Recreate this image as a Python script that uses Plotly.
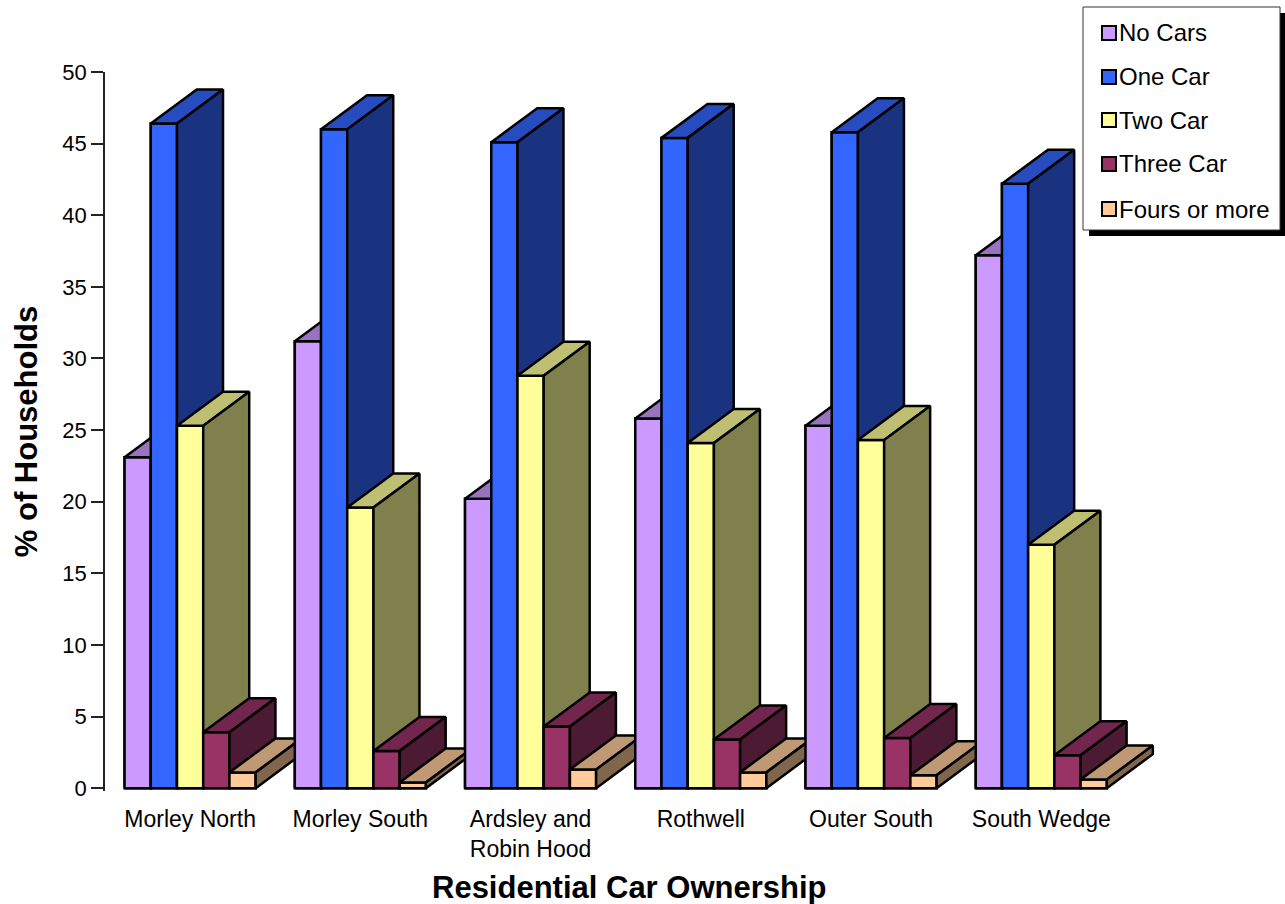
import plotly.graph_objects as go

# ---- data -------------------------------------------------------------
categories = ["Morley North", "Morley South", "Ardsley and<br>Robin Hood",
              "Rothwell", "Outer South", "South Wedge"]
series_names = ["No Cars", "One Car", "Two Car", "Three Car", "Fours or more"]

no_cars = [23.1, 31.2, 20.2, 25.8, 25.3, 37.2]
one_car = [46.4, 46.0, 45.1, 45.4, 45.8, 42.2]
two_car = [25.3, 19.6, 28.8, 24.1, 24.3, 17.0]
three_car = [3.9, 2.6, 4.3, 3.4, 3.5, 2.3]
four_plus = [1.1, 0.4, 1.3, 1.1, 0.9, 0.6]

y_tick_values = [0, 5, 10, 15, 20, 25, 30, 35, 40, 45, 50]

# ---- styling ----------------------------------------------------------
front_colors = ["#CC99FF", "#3366FF", "#FFFF99", "#993366", "#FFCC99"]
top_colors = ["#9973BF", "#264CBF", "#BFBF73", "#73264D", "#BF9973"]
side_colors = ["#664C80", "#1A3380", "#80804D", "#4D1A33", "#80664D"]
EDGE = "#000000"
EDGE_W = 2.5
FONT = "Arial, 'Liberation Sans', sans-serif"

# figure / plot-area geometry (pixels)
FIG_W, FIG_H = 1285, 904
M_L, M_R, M_T, M_B = 105, 82, 72, 113
X_RANGE = [0, 6.45]
Y_RANGE = [-0.2, 50]
PLOT_W = FIG_W - M_L - M_R
PLOT_H = FIG_H - M_T - M_B

# 3-D column geometry in axis units
BAR_W = 0.154                 # width of one column
DEPTH_X = 46 / (PLOT_W / (X_RANGE[1] - X_RANGE[0]))   # receding offset, x
DEPTH_Y = 34 / (PLOT_H / (Y_RANGE[1] - Y_RANGE[0]))   # receding offset, y


def px_x(px):
    return (px - M_L) / PLOT_W


def px_y(py):
    return (M_T + PLOT_H - py) / PLOT_H


series_values = [no_cars, one_car, two_car, three_car, four_plus]
n_series = len(series_values)
x_centers = [i + 0.5 for i in range(len(categories))]

fig = go.Figure()

# flat front faces as ordinary bar traces
for s, (name, vals) in enumerate(zip(series_names, series_values)):
    fig.add_trace(go.Bar(
        x=x_centers, y=vals, name=name,
        width=BAR_W, offset=(s - n_series / 2) * BAR_W,
        marker=dict(color=front_colors[s], line=dict(color=EDGE, width=EDGE_W)),
        showlegend=False, hoverinfo="skip",
    ))


def face(xs, ys, color):
    fig.add_trace(go.Scatter(
        x=xs + [xs[0]], y=ys + [ys[0]], mode="lines", fill="toself",
        fillcolor=color, line=dict(color=EDGE, width=EDGE_W),
        showlegend=False, hoverinfo="skip",
    ))


# extruded columns, painted left to right so nearer faces overlap
for c, xc in enumerate(x_centers):
    for s in range(n_series):
        v = series_values[s][c]
        xl = xc + (s - n_series / 2) * BAR_W
        xr = xl + BAR_W
        # front
        face([xl, xr, xr, xl], [0, 0, v, v], front_colors[s])
        # top
        face([xl, xr, xr + DEPTH_X, xl + DEPTH_X],
             [v, v, v + DEPTH_Y, v + DEPTH_Y], top_colors[s])
        # right side
        face([xr, xr + DEPTH_X, xr + DEPTH_X, xr],
             [0, DEPTH_Y, v + DEPTH_Y, v], side_colors[s])

# ---- legend box ----------------------------------------------------------
shapes = []
annotations = []
box_l, box_r, box_t, box_b = 1083, 1280, 7, 230
shadow = 6
shapes.append(dict(type="rect", xref="paper", yref="paper",
                   x0=px_x(box_l + shadow), x1=px_x(box_r + shadow),
                   y0=px_y(box_b + shadow), y1=px_y(box_t + shadow),
                   fillcolor="black", line=dict(width=0), layer="above"))
shapes.append(dict(type="rect", xref="paper", yref="paper",
                   x0=px_x(box_l), x1=px_x(box_r),
                   y0=px_y(box_b), y1=px_y(box_t),
                   fillcolor="white", line=dict(color="#333333", width=1),
                   layer="above"))
row_y = [33, 77, 120, 164, 209]
for s, name in enumerate(series_names):
    cy = row_y[s]
    shapes.append(dict(type="rect", xref="paper", yref="paper",
                       x0=px_x(1102), x1=px_x(1116),
                       y0=px_y(cy + 7), y1=px_y(cy - 7),
                       fillcolor=front_colors[s],
                       line=dict(color="black", width=2), layer="above"))
    annotations.append(dict(text=name, xref="paper", yref="paper",
                            x=px_x(1117), y=px_y(cy), xanchor="left",
                            yanchor="middle", showarrow=False,
                            font=dict(family=FONT, size=24, color="black")))

# x-axis title
annotations.append(dict(text="Residential Car Ownership", xref="paper",
                        yref="paper", x=px_x(629), y=px_y(887),
                        xanchor="center", yanchor="middle", showarrow=False,
                        font=dict(family=FONT, size=31, color="black",
                                  weight="bold")))

fig.update_layout(
    width=FIG_W, height=FIG_H, autosize=False,
    margin=dict(l=M_L, r=M_R, t=M_T, b=M_B, pad=0),
    paper_bgcolor="white", plot_bgcolor="white",
    barmode="overlay", showlegend=False,
    font=dict(family=FONT, size=22, color="black"),
    shapes=shapes, annotations=annotations,
    xaxis=dict(range=X_RANGE, tickvals=x_centers, ticktext=categories,
               showgrid=False, zeroline=False, showline=False, ticks="",
               ticklabelstandoff=12, tickfont=dict(size=23, color="black"),
               fixedrange=True),
    yaxis=dict(range=Y_RANGE, tickvals=y_tick_values, showgrid=False,
               zeroline=False, showline=True, linecolor="#222222",
               linewidth=1.5, ticks="outside", ticklen=12,
               tickcolor="#222222", tickwidth=1.5,
               tickfont=dict(size=22, color="black"),
               title=dict(text="% of Households", standoff=16,
                          font=dict(family=FONT, size=31, color="black",
                                    weight="bold")),
               fixedrange=True),
)

fig.write_html("out.html")
